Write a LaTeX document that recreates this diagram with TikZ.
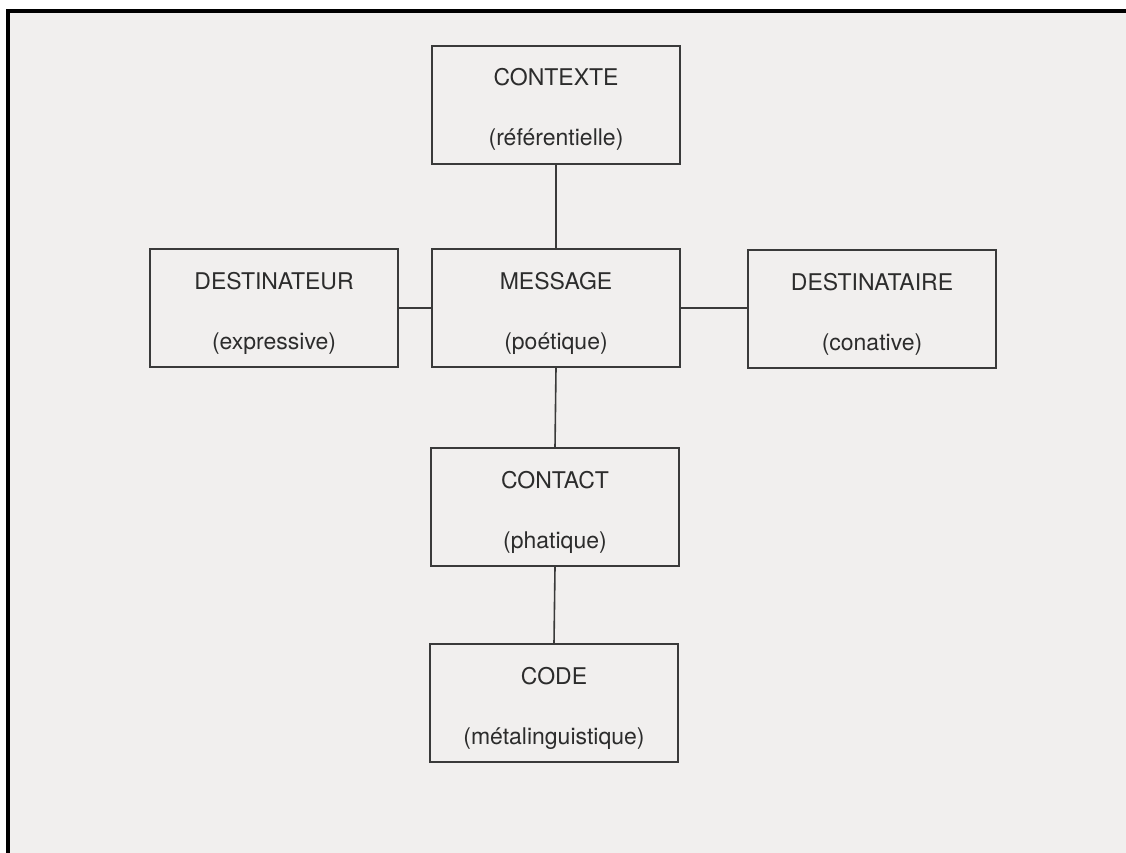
\documentclass[tikz,border=0pt]{standalone}
\usepackage{fontspec}
\setmainfont{TeX Gyre Heros}
\definecolor{paper}{HTML}{F1EFEE}
\definecolor{ink}{HTML}{3A3A3A}
\definecolor{txt}{HTML}{2C2C2C}
\begin{document}
\begin{tikzpicture}[x=1pt,y=-1pt,
  box/.style={draw=ink,line width=1.6pt,minimum width=248pt,minimum height=118pt,inner sep=0pt},
  upper/.style={anchor=base,text=txt,font=\fontsize{23}{26}\selectfont,inner sep=0pt},
  lower/.style={anchor=base,text=txt,font=\fontsize{23}{26}\selectfont,inner sep=0pt},
  link/.style={draw=ink,line width=1.6pt}]
\useasboundingbox (0,0) rectangle (1126,853);
\fill[white] (0,0) rectangle (1126,853);
\fill[paper] (6,9) rectangle (1126,853);
\fill[black] (6,9) rectangle (1126,13);
\fill[black] (6,9) rectangle (10,853);

\node[box] (contexte) at (556,105) {};
\node[box] (destinateur) at (274,308) {};
\node[box] (message) at (556,308) {};
\node[box] (destinataire) at (872,309) {};
\node[box] (contact) at (555,507) {};
\node[box] (code) at (554,703) {};

\node[upper] (contexteA) at ([yshift=19pt]contexte.center) {CONTEXTE};
\node[lower] (contexteB) at ([yshift=-41pt]contexte.center) {(référentielle)};
\node[upper] (destinateurA) at ([yshift=19pt]destinateur.center) {DESTINATEUR};
\node[lower] (destinateurB) at ([yshift=-41pt]destinateur.center) {(expressive)};
\node[upper] (messageA) at ([yshift=19pt]message.center) {MESSAGE};
\node[lower] (messageB) at ([yshift=-41pt]message.center) {(poétique)};
\node[upper] (destinataireA) at ([yshift=19pt]destinataire.center) {DESTINATAIRE};
\node[lower] (destinataireB) at ([yshift=-41pt]destinataire.center) {(conative)};
\node[upper] (contactA) at ([yshift=19pt]contact.center) {CONTACT};
\node[lower] (contactB) at ([yshift=-41pt]contact.center) {(phatique)};
\node[upper] (codeA) at ([yshift=19pt]code.center) {CODE};
\node[lower] (codeB) at ([yshift=-41pt]code.center) {(métalinguistique)};

\draw[link] (contexte.south) -- (message.north);
\draw[link] (destinateur.east) -- (message.west);
\draw[link] (message.east) -- (destinataire.west |- message.east);
\draw[link] (message.south) -- (contact.north);
\draw[link] (contact.south) -- (code.north);
\end{tikzpicture}
\end{document}
